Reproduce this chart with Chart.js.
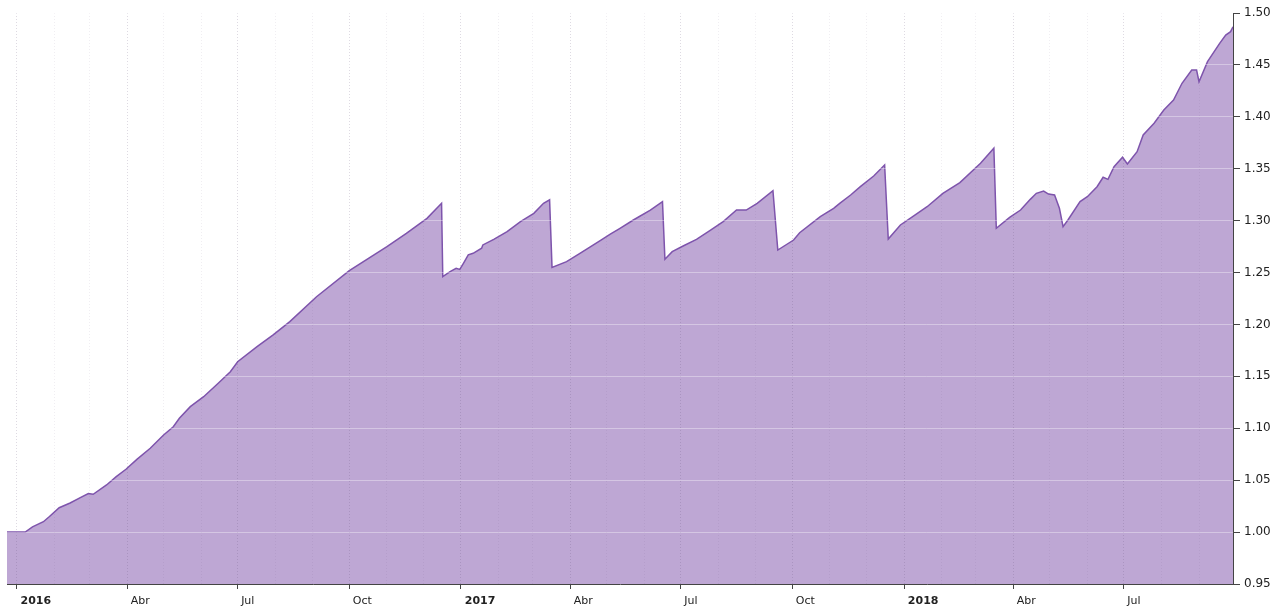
<!DOCTYPE html>
<html>
<head>
<meta charset="utf-8">
<title>Chart</title>
<script src="https://cdn.jsdelivr.net/npm/chart.js@4.4.1/dist/chart.umd.min.js"></script>
<style>
  body { margin: 0; background: #fff; }
  #wrap { width: 1279px; height: 606px; position: relative; }
</style>
</head>
<body>
<div id="wrap"><canvas id="myChart"></canvas></div>
<script>
// days counted from 1 Jan 2016
const days = [-8, 7, 13, 22, 27, 35, 44, 52, 59, 63, 74, 82, 90, 99, 110, 121, 129, 134, 143, 154, 166, 176,
  182, 198, 211, 225, 247, 274, 305, 321, 338, 350,
  351, 357, 362, 365, 368, 372, 376, 383, 384, 393, 404, 415, 426, 434, 439,
  441, 453, 464, 481, 489, 497, 508, 522, 532,
  534, 540, 549, 560, 571, 582, 593, 601, 610, 623,
  627, 640, 645, 662, 673, 678, 687, 695, 706, 715,
  718, 728, 739, 750, 763, 777, 794, 805,
  807, 818, 827, 835, 840, 846, 850, 855, 859, 862, 866, 876, 882, 890, 895, 899, 904, 911, 915, 923,
  928, 937, 945, 953, 960, 968, 972, 974, 981, 991, 996, 1000, 1002];
const values = [1.000, 1.000, 1.005, 1.010, 1.015, 1.0235, 1.028, 1.033, 1.0372, 1.0364, 1.0454, 1.0534, 1.0605, 1.070, 1.0807, 1.0935, 1.1015, 1.1096, 1.1208, 1.1304, 1.1433, 1.1545,
  1.1641, 1.1786, 1.1898, 1.2027, 1.2267, 1.2518, 1.2749, 1.2878, 1.3022, 1.3167,
  1.246, 1.2508, 1.254, 1.253, 1.2589, 1.267, 1.2685, 1.2734, 1.2766, 1.282, 1.2894, 1.299, 1.307, 1.3167, 1.320,
  1.255, 1.2605, 1.2685, 1.281, 1.287, 1.2926, 1.3006, 1.3102, 1.3183,
  1.2628, 1.2701, 1.2756, 1.282, 1.2903, 1.299, 1.3102, 1.3102, 1.3167, 1.3288,
  1.2717, 1.2813, 1.2884, 1.3038, 1.3119, 1.3167, 1.3247, 1.3327, 1.343, 1.3536,
  1.2823, 1.2958, 1.3045, 1.3134, 1.3263, 1.3366, 1.3552, 1.3697,
  1.2926, 1.3032, 1.3102, 1.3205, 1.3263, 1.3285, 1.3256, 1.3247, 1.3119, 1.2942, 1.3006, 1.3183, 1.3231, 1.3327, 1.3418, 1.3398, 1.352, 1.361, 1.3546, 1.3664,
  1.3825, 1.3938, 1.4066, 1.4162, 1.4323, 1.4451, 1.4451, 1.4338, 1.4531, 1.4708, 1.4788, 1.482, 1.4868];

const years = [2016, 2017, 2018];
const monthLabels = ['', '', '', 'Abr', '', '', 'Jul', '', '', 'Oct', '', ''];
const monthCount = 33; // Jan 2016 .. Sep 2018

const lineColor = 'rgb(126, 84, 172)';
const fillColor = 'rgba(126, 80, 170, 0.5)';

const monthTicks = [];
for (let m = 0; m < monthCount; m++) {
  const d = (Date.UTC(2016, m, 1) - Date.UTC(2016, 0, 1)) / 86400000;
  const mi = m % 12;
  monthTicks.push({
    value: d,
    label: mi === 0 ? ' ' + years[Math.floor(m / 12)] : (monthLabels[mi] ? ' ' + monthLabels[mi] : ''),
    quarter: mi % 3 === 0,
    year: mi === 0
  });
}

const points = days.map((d, i) => ({ x: d, y: values[i] }));

const ctx = document.getElementById('myChart');

new Chart(ctx, {
  type: 'line',
  data: {
    datasets: [{
      data: points,
      borderColor: lineColor,
      borderWidth: 1.5,
      backgroundColor: fillColor,
      fill: 'start',
      pointRadius: 0,
      tension: 0
    }]
  },
  options: {
    responsive: true,
    maintainAspectRatio: false,
    animation: false,
    layout: { padding: { left: 7, top: 13, right: 0, bottom: 0 } },
    plugins: { legend: { display: false }, tooltip: { enabled: false } },
    scales: {
      x: {
        type: 'linear',
        min: -8,
        max: 1002,
        afterBuildTicks: (scale) => {
          scale.ticks = monthTicks.map(t => ({ value: t.value }));
        },
        afterFit: (scale) => { scale.height = 22; },
        grid: {
          z: 1,
          color: (c) => {
            const t = monthTicks[c.index];
            return t && t.quarter ? 'rgba(90,70,110,0.2)' : 'rgba(90,70,110,0.09)';
          },
          tickColor: (c) => {
            const t = monthTicks[c.index];
            return t && t.quarter ? '#444' : 'rgba(0,0,0,0)';
          },
          tickLength: 5,
          tickBorderDash: []
        },
        border: { display: true, color: '#444', width: 1, dash: [1, 2], z: 2 },
        ticks: {
          autoSkip: false,
          maxRotation: 0,
          align: 'start',
          padding: 6,
          color: '#222',
          font: (c) => {
            const t = monthTicks[c.index];
            return { family: 'DejaVu Sans', size: 11, weight: t && t.year ? 'bold' : 'normal' };
          },
          callback: (value, index) => monthTicks[index] ? monthTicks[index].label : ''
        }
      },
      y: {
        position: 'right',
        min: 0.95,
        max: 1.50,
        afterFit: (scale) => { scale.width = 46; },
        grid: {
          z: 1,
          color: 'rgba(255,255,255,0.35)',
          tickColor: '#444',
          tickLength: 7
        },
        border: { display: true, color: '#444', width: 1, z: 2 },
        ticks: {
          stepSize: 0.05,
          padding: 4,
          color: '#222',
          font: { family: 'DejaVu Sans', size: 12 },
          callback: (value) => value.toFixed(2)
        }
      }
    }
  }
});
</script>
</body>
</html>
